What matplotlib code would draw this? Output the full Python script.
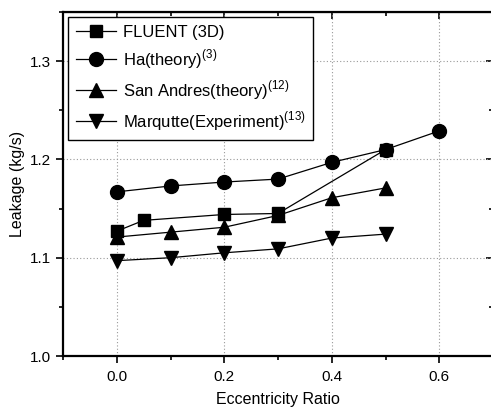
import numpy as np
import matplotlib.pyplot as plt
from matplotlib.ticker import MultipleLocator

plt.rcParams['font.family'] = ['Liberation Sans', 'DejaVu Sans']
plt.rcParams['mathtext.fontset'] = 'custom'
plt.rcParams['mathtext.rm'] = 'Liberation Sans'

# data
x_fluent = [0.0, 0.05, 0.2, 0.3, 0.5]
y_fluent = [1.127, 1.138, 1.144, 1.145, 1.210]

x_ha = [0.0, 0.1, 0.2, 0.3, 0.4, 0.5, 0.6]
y_ha = [1.167, 1.173, 1.177, 1.180, 1.197, 1.210, 1.229]

x_san = [0.0, 0.1, 0.2, 0.3, 0.4, 0.5]
y_san = [1.121, 1.126, 1.131, 1.143, 1.161, 1.171]

x_mar = [0.0, 0.1, 0.2, 0.3, 0.4, 0.5]
y_mar = [1.097, 1.100, 1.105, 1.109, 1.120, 1.124]

labels = ['FLUENT (3D)', 'Ha(theory)$^{(3)}$',
          'San Andres(theory)$^{(12)}$', 'Marqutte(Experiment)$^{(13)}$']

fig = plt.figure(figsize=(4.91, 4.09), dpi=100)
W, H = 491, 409
ax = fig.add_axes([63 / W, 1 - 356 / H, 430 / W, 344 / H])

lw = 0.9
ax.plot(x_fluent, y_fluent, color='k', lw=lw, marker='s', ms=9, label=labels[0])
ax.plot(x_ha, y_ha, color='k', lw=lw, marker='o', ms=10, label=labels[1])
ax.plot(x_san, y_san, color='k', lw=lw, marker='^', ms=10.5, label=labels[2])
ax.plot(x_mar, y_mar, color='k', lw=lw, marker='v', ms=10.5, label=labels[3])

ax.set_xlim(-0.1, 0.7)
ax.set_ylim(1.0, 1.35)
ax.xaxis.set_major_locator(MultipleLocator(0.2))
ax.xaxis.set_minor_locator(MultipleLocator(0.1))
ax.yaxis.set_major_locator(MultipleLocator(0.1))
ax.yaxis.set_minor_locator(MultipleLocator(0.05))
ax.set_xticks([0.0, 0.2, 0.4, 0.6])
ax.set_yticks([1.0, 1.1, 1.2, 1.3])

ax.grid(True, which='major', color='#999999', ls=(0, (1, 2)), lw=0.8)

for s in ax.spines.values():
    s.set_linewidth(1.6)

ax.tick_params(axis='both', which='both', labelsize=11, width=1.2)
ax.tick_params(which='major', length=5)
ax.tick_params(which='minor', length=3)
ax.tick_params(axis='x', which='both', direction='out', top=False, pad=5)
ax.tick_params(axis='y', which='both', direction='out', right=False)

ax_r = ax.secondary_yaxis('right')
ax_r.set_yticks([1.0, 1.1, 1.2, 1.3])
ax_r.yaxis.set_minor_locator(MultipleLocator(0.05))
ax_r.tick_params(which='both', direction='in', labelright=False, width=1.2)
ax_r.tick_params(which='major', length=5)
ax_r.tick_params(which='minor', length=3)
ax_t = ax.secondary_xaxis('top')
ax_t.set_xticks([0.0, 0.2, 0.4, 0.6])
ax_t.xaxis.set_minor_locator(MultipleLocator(0.1))
ax_t.tick_params(which='both', direction='in', labeltop=False, width=1.2)
ax_t.tick_params(which='major', length=5)
ax_t.tick_params(which='minor', length=3)

ax.set_xlabel('Eccentricity Ratio', fontsize=11.5, labelpad=6)
ax.set_ylabel('Leakage (kg/s)', fontsize=11.5, labelpad=4)

leg = ax.legend(loc='upper left', bbox_to_anchor=(0.005, 0.995), fontsize=12,
                frameon=True, fancybox=False, edgecolor='k', framealpha=1,
                handlelength=2.4, handletextpad=0.4, labelspacing=0.45,
                borderpad=0.45, borderaxespad=0.2)
leg.get_frame().set_linewidth(1.0)

fig.savefig('out.png', dpi=100)
